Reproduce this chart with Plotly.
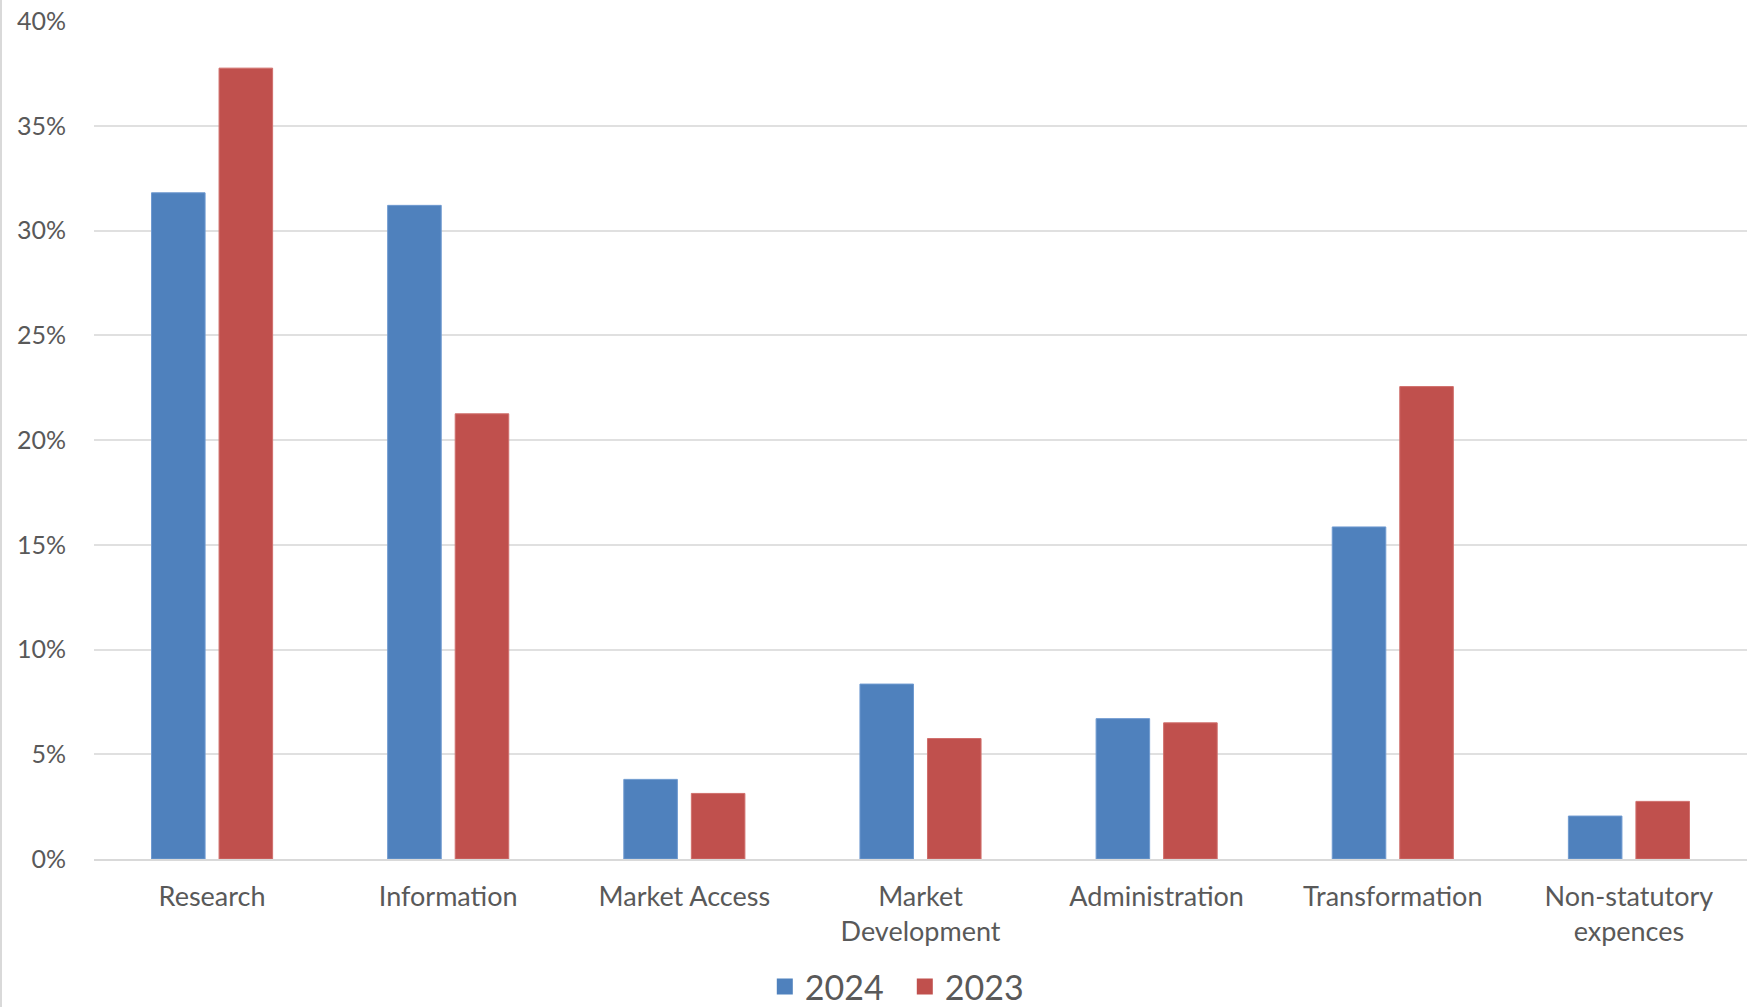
import plotly.graph_objects as go

categories = ["Research", "Information", "Market Access", "Market<br>Development",
              "Administration", "Transformation", "Non-statutory<br>expences"]
values_2024 = [31.8, 31.2, 3.8, 8.35, 6.7, 15.85, 2.05]
values_2023 = [37.75, 21.25, 3.13, 5.75, 6.5, 22.55, 2.75]
series_names = ["2024", "2023"]
series_colors = ["#4F81BD", "#C0504D"]
tick_vals = [0, 5, 10, 15, 20, 25, 30, 35, 40]
tick_text = [f"{v}%" for v in tick_vals]

fig = go.Figure()
for name, vals, col, lc in zip(series_names, [values_2024, values_2023], series_colors,
                               ["#6f9ad0", "#d06f6c"]):
    fig.add_trace(go.Bar(name=name, x=categories, y=vals, showlegend=False,
                         marker=dict(color=col, line=dict(color=lc, width=1))))
# legend entries with larger square swatches
for name, col in zip(series_names, series_colors):
    fig.add_trace(go.Scatter(name=name, x=[None], y=[None], mode="markers",
                             marker=dict(symbol="square", size=22, color=col),
                             showlegend=True))

fig.update_layout(
    width=1747, height=1007,
    margin=dict(l=94, r=0, t=21, b=148),
    paper_bgcolor="white", plot_bgcolor="white",
    barmode="group", bargap=0.428, bargroupgap=0.207,
    font=dict(family="Lato", color="#595959"),
    showlegend=True,
    legend=dict(orientation="h", x=0.4905, xanchor="center",
                yref="container", y=0.020, yanchor="middle",
                bgcolor="rgba(0,0,0,0)", entrywidth=95, entrywidthmode="pixels",
                font=dict(size=34, color="#595959"), itemwidth=30, itemsizing="trace",
                tracegroupgap=0),
    xaxis=dict(showgrid=False, showline=True, linecolor="#d9d9d9", linewidth=1.5,
               tickfont=dict(size=27, color="#595959"), ticks="", ticklabelstandoff=13,
               automargin=False),
    yaxis=dict(range=[0, 40], tickvals=tick_vals, ticktext=tick_text,
               showgrid=True, gridcolor="#e0e0e0", gridwidth=1.5, zeroline=False,
               showline=False, tickfont=dict(size=25, color="#595959"),
               ticks="", ticklabelstandoff=27, automargin=False),
    shapes=[dict(type="line", xref="paper", yref="paper", x0=-93/1653, x1=-93/1653,
                 y0=-148/838, y1=1 + 21/838, line=dict(color="#d9d9d9", width=2))],
)

fig.write_html("out.html", config={"displayModeBar": False},
               post_script="document.body.style.margin='0';document.body.style.overflow='hidden';")
